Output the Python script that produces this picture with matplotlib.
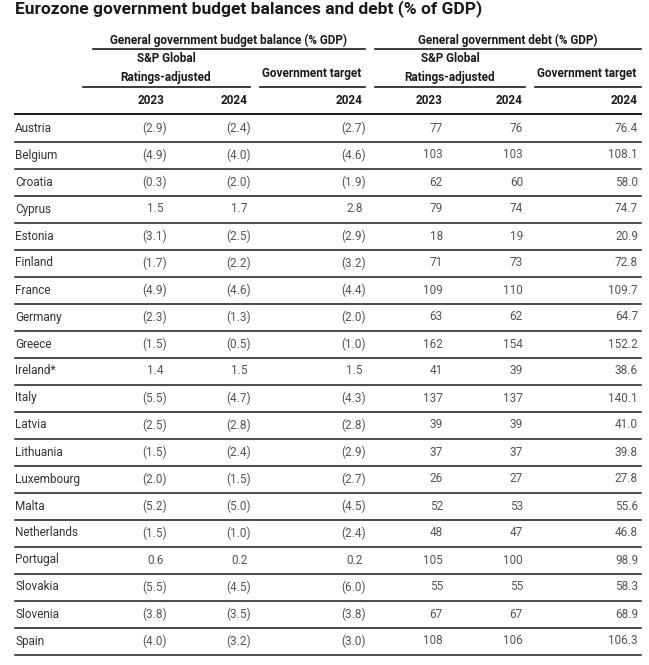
import matplotlib
matplotlib.use("Agg")
import matplotlib.pyplot as plt
import matplotlib.transforms as mtransforms

plt.rcParams['font.family'] = ['Roboto', 'DejaVu Sans']

title = "Eurozone government budget balances and debt (% of GDP)"
countries = ["Austria", "Belgium", "Croatia", "Cyprus", "Estonia", "Finland", "France",
             "Germany", "Greece", "Ireland*", "Italy", "Latvia", "Lithuania", "Luxembourg",
             "Malta", "Netherlands", "Portugal", "Slovakia", "Slovenia", "Spain"]
bal_2023 = [-2.9, -4.9, -0.3, 1.5, -3.1, -1.7, -4.9, -2.3, -1.5, 1.4,
            -5.5, -2.5, -1.5, -2.0, -5.2, -1.5, 0.6, -5.5, -3.8, -4.0]
bal_2024 = [-2.4, -4.0, -2.0, 1.7, -2.5, -2.2, -4.6, -1.3, -0.5, 1.5,
            -4.7, -2.8, -2.4, -1.5, -5.0, -1.0, 0.2, -4.5, -3.5, -3.2]
bal_target = [-2.7, -4.6, -1.9, 2.8, -2.9, -3.2, -4.4, -2.0, -1.0, 1.5,
              -4.3, -2.8, -2.9, -2.7, -4.5, -2.4, 0.2, -6.0, -3.8, -3.0]
debt_2023 = [77, 103, 62, 79, 18, 71, 109, 63, 162, 41,
             137, 39, 37, 26, 52, 48, 105, 55, 67, 108]
debt_2024 = [76, 103, 60, 74, 19, 73, 110, 62, 154, 39,
             137, 39, 37, 27, 53, 47, 100, 55, 67, 106]
debt_target = [76.4, 108.1, 58.0, 74.7, 20.9, 72.8, 109.7, 64.7, 152.2, 38.6,
               140.1, 41.0, 39.8, 27.8, 55.6, 46.8, 98.9, 58.3, 68.9, 106.3]

group_labels = ["General government budget balance (% GDP)", "General government debt (% GDP)"]
sub_labels = ["S&P Global\nRatings-adjusted", "Government target"]
year_labels = ["2023", "2024", "2024", "2023", "2024", "2024"]

W, H = 649, 665
fig = plt.figure(figsize=(W / 100, H / 100), dpi=100)
ax = fig.add_axes([0, 0, 1, 1])
ax.set_xlim(0, W)
ax.set_ylim(H, 0)
ax.axis("off")

dark = "#1a1a1a"
grey = "#555555"
fs = 8.5

ax.text(15, 9, title, fontsize=12.5, fontweight="bold", color=dark, va="center", ha="left")

# group headers and rules
ax.text(229, 40, group_labels[0], fontsize=fs, fontweight="bold", color=dark, ha="center", va="center")
ax.text(508, 40, group_labels[1], fontsize=fs, fontweight="bold", color=dark, ha="center", va="center")
ax.plot([93, 365], [49, 49], color=dark, lw=1.2)
ax.plot([375, 641], [49, 49], color=dark, lw=1.2)

# sub headers
ax.text(166, 68, sub_labels[0], fontsize=fs, fontweight="bold", color=dark, ha="center",
        va="center", linespacing=1.55)
ax.text(312, 73, sub_labels[1], fontsize=fs, fontweight="bold", color=dark, ha="center", va="center")
ax.text(450, 68, sub_labels[0], fontsize=fs, fontweight="bold", color=dark, ha="center",
        va="center", linespacing=1.55)
ax.text(587, 73, sub_labels[1], fontsize=fs, fontweight="bold", color=dark, ha="center", va="center")
for x0, x1 in [(83, 250), (260, 365), (375, 525), (535, 641)]:
    ax.plot([x0, x1], [87, 87], color=dark, lw=1.2)

# columns: right edges
col_x = [167, 251, 366, 443, 523, 638]
year_x = [164, 248, 363, 443, 523, 638]
for yl, x in zip(year_labels, year_x):
    ax.text(x, 101, yl, fontsize=fs, fontweight="bold", color=dark, ha="right", va="center")
ax.plot([15, 641], [114, 114], color=dark, lw=1.4)


def fmt_bal(v):
    return "(%.1f)" % abs(v) if v < 0 else "%.1f" % v


shift = mtransforms.offset_copy(ax.transData, fig=fig, x=-3.5, y=0, units="dots")

y0, step = 128, 27
for i, c in enumerate(countries):
    y = y0 + i * step
    ax.text(15, y, c, fontsize=fs, color="#333333", ha="left", va="center")
    for x, v in zip(col_x[:3], [bal_2023[i], bal_2024[i], bal_target[i]]):
        tr = ax.transData if v < 0 else shift
        ax.text(x, y, fmt_bal(v), fontsize=fs, color=grey, ha="right", va="center", transform=tr)
    ax.text(col_x[3], y, "%d" % debt_2023[i], fontsize=fs, color=grey, ha="right", va="center")
    ax.text(col_x[4], y, "%d" % debt_2024[i], fontsize=fs, color=grey, ha="right", va="center")
    ax.text(col_x[5], y, "%.1f" % debt_target[i], fontsize=fs, color=grey, ha="right", va="center")
    ax.plot([15, 641], [y + 13.5, y + 13.5], color=dark, lw=1.1)

fig.savefig("out.png", dpi=100, facecolor="white")
